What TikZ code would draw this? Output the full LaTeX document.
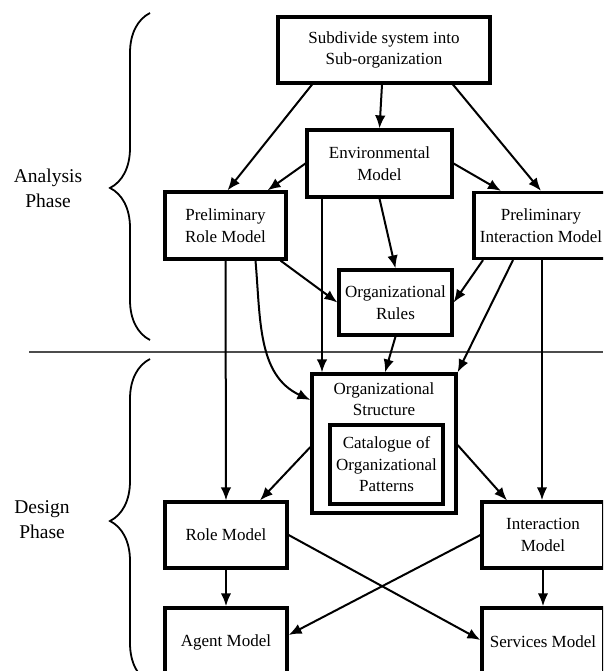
\documentclass[tikz,border=0pt]{standalone}
\usepackage{fontspec}
\setmainfont{Liberation Serif}
\usetikzlibrary{arrows.meta,decorations.pathreplacing}
\begin{document}
\begin{tikzpicture}[x=1pt,y=-1pt]
% Styles
\tikzstyle{fleche}=[-{Latex[length=13pt,width=10.5pt]},line width=2pt]
\tikzstyle{grossefleche}=[fleche,line width=2.8pt]
\tikzstyle{boite}=[draw,line width=3.2pt,align=center,inner sep=0pt,font=\fontsize{17}{21.5}\selectfont]
\tikzstyle{phase}=[align=center,font=\fontsize{19.5}{25}\selectfont]
\tikzstyle{accolade}=[decorate,decoration={brace,amplitude=40pt},line width=1.8pt]
% Dimensions
\def\ColonneA{226}
\def\ColonneB{384}
\def\ColonneC{543}
\def\NiveauA{50}
\def\NiveauB{163.5}
\def\NiveauC{225.5}
\def\NiveauD{302.5}
\def\NiveauE{443.5}
\def\NiveauF{535}
\def\NiveauG{642}
% Cadre
\clip (0,0) rectangle (603,671);
% Phases
\node[phase] (analyse) at (48,188) {Analysis\\Phase};
\node[phase] (conception) at (42,520) {Design\\Phase};
\draw[accolade] (150,340) -- (150,13) [decoration={aspect=0.465}];
\draw[accolade] (150,683) -- (150,359);
\draw[line width=1.5pt,black!70] (29,352) -- (603,352);
% Boites
\node[boite,minimum width=212pt,minimum height=66pt] (sub) at ({\ColonneB},{\NiveauA}) {Subdivide system into\\Sub-organization};
\node[boite,minimum width=145pt,minimum height=67pt] (env) at ({\ColonneB-4.5},{\NiveauB}) {Environmental\\Model};
\node[boite,minimum width=121pt,minimum height=67pt] (prole) at ({\ColonneA-0.5},{\NiveauC}) {Preliminary\\Role Model};
\node[boite,minimum width=134pt,minimum height=66pt] (pinter) at ({\ColonneC-2},{\NiveauC}) {Preliminary\\Interaction Model};
\node[boite,minimum width=113pt,minimum height=65pt] (rules) at ({\ColonneB+11.5},{\NiveauD}) {Organizational\\Rules};
\node[boite,minimum width=144pt,minimum height=139pt] (struct) at ({\ColonneB},{\NiveauE}) {};
\node[align=center,inner sep=0pt,font=\fontsize{17}{21.5}\selectfont] (structtitre) at ({\ColonneB},399) {Organizational\\Structure};
\node[boite,minimum width=113pt,minimum height=79pt] (cat) at ({\ColonneB+2.5},464.5) {Catalogue of\\Organizational\\Patterns};
\node[boite,minimum width=122pt,minimum height=66pt] (role) at ({\ColonneA},{\NiveauF}) {Role Model};
\node[boite,minimum width=122pt,minimum height=66pt] (inter) at ({\ColonneC},{\NiveauF}) {Interaction\\Model};
\node[boite,minimum width=122pt,minimum height=68pt] (agent) at ({\ColonneA},{\NiveauG}) {Agent Model};
\node[boite,minimum width=122pt,minimum height=68pt] (serv) at ({\ColonneC},{\NiveauG}) {Services Model};
% Fleches
\draw[fleche] ([xshift=-2pt]sub.south) -- (env.north);
\draw[fleche] ([xshift=-72pt]sub.south) -- ([xshift=2pt]prole.north);
\draw[fleche] ([xshift=69pt]sub.south) -- (pinter.north);
\draw[fleche] (env.west) -- ([xshift=42pt]prole.north);
\draw[fleche] (env.east) -- ([xshift=-40pt]pinter.north);
\draw[fleche] (env.south) -- (rules.north);
\draw[fleche] ([xshift=-57.5pt]env.south) -- ([xshift=-62pt]struct.north);
\draw[fleche] ([xshift=55pt]prole.south) -- (rules.west);
\draw[fleche] ([xshift=30pt]prole.south) to[out=-85,in=155] ([yshift=43.5pt]struct.west);
\draw[fleche] (prole.south) -- (role.north);
\draw[fleche] ([xshift=-58pt]pinter.south) -- (rules.east);
\draw[fleche] ([xshift=-28pt]pinter.south) -- (struct.north east);
\draw[grossefleche] ([xshift=1pt]pinter.south) -- ([xshift=-1pt]inter.north);
\draw[fleche] (rules.south) -- ([xshift=1pt]struct.north);
\draw[fleche] ([yshift=-3.5pt]struct.west) -- ([xshift=34pt]role.north);
\draw[fleche] ([yshift=-1.5pt]struct.east) -- ([xshift=-36pt]inter.north);
\draw[grossefleche] (role.south) -- (agent.north);
\draw[grossefleche] (inter.south) -- (serv.north);
\draw[fleche] (role.east) -- ([yshift=2pt]serv.west);
\draw[fleche] (inter.west) -- ([yshift=7pt]agent.east);
\end{tikzpicture}
\end{document}
